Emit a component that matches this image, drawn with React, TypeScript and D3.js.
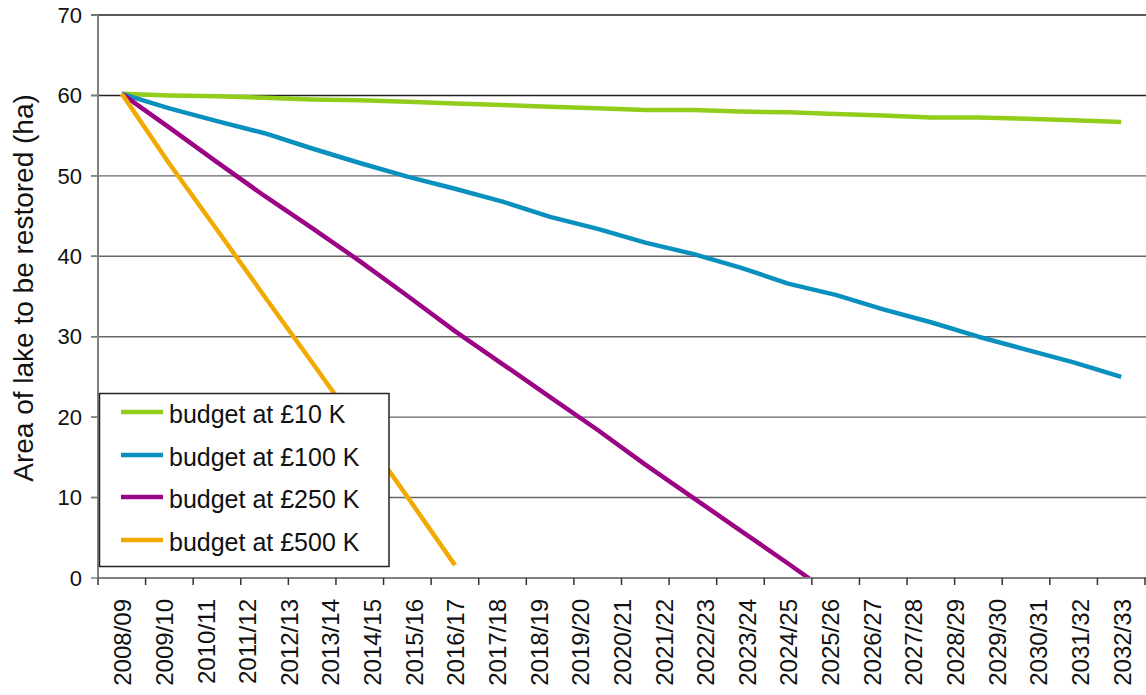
import React from "react";
import * as d3 from "d3";

const yearLabels = [
  "2008/09", "2009/10", "2010/11", "2011/12", "2012/13", "2013/14", "2014/15",
  "2015/16", "2016/17", "2017/18", "2018/19", "2019/20", "2020/21", "2021/22",
  "2022/23", "2023/24", "2024/25", "2025/26", "2026/27", "2027/28", "2028/29",
  "2029/30", "2030/31", "2031/32", "2032/33",
];

// values at each plotted step (22 steps on the drawn axis)
const budget10 = [60.2, 60.0, 59.9, 59.7, 59.5, 59.4, 59.2, 59.0, 58.8, 58.6, 58.4, 58.2, 58.2, 58.0, 57.9, 57.7, 57.5, 57.25, 57.25, 57.1, 56.9, 56.7];
const budget100 = [60.2, 58.4, 56.8, 55.3, 53.4, 51.6, 49.9, 48.4, 46.8, 44.9, 43.4, 41.7, 40.3, 38.6, 36.6, 35.2, 33.4, 31.8, 30.0, 28.4, 26.8, 25.0];
const budget250 = [60.2, 56.0, 51.7, 47.5, 43.5, 39.4, 35.1, 30.7, 26.6, 22.5, 18.4, 14.1, 10.0, 5.9, 1.8, -2.4];
const budget500 = [60.2, 51.5, 43.3, 35.0, 26.8, 18.5, 10.1, 1.6];

const stepCount = 22;
const yTicks = [0, 10, 20, 30, 40, 50, 60, 70];

const seriesNames = ["budget at £10 K", "budget at £100 K", "budget at £250 K", "budget at £500 K"];
const seriesValues = [budget10, budget100, budget250, budget500];
const seriesColors = ["#93CD1C", "#0A90BF", "#9B0585", "#F3AA00"];

const W = 1146;
const H = 695;
const left = 98;
const right = 1145;
const top = 15;
const bottom = 578;
const FONT = "'Liberation Sans', Arial, sans-serif";

export default function App() {
  const steps = d3.range(stepCount);
  const x = d3.scaleBand<number>().domain(steps).range([left, right]).paddingInner(0).paddingOuter(0);
  const xLab = d3.scaleBand<string>().domain(yearLabels).range([102, 1143]);
  const y = d3.scaleLinear().domain([0, 70]).range([bottom, top]);

  const line = d3
    .line<number>()
    .x((_, i) => (x(i) as number) + x.bandwidth() / 2)
    .y((d) => y(d));

  const tickXs = d3.range(stepCount + 1).map((i) => left + i * x.bandwidth());

  const legendRows = [412, 455, 497, 540];

  return (
    <svg
      width={W}
      height={H}
      style={{ position: "absolute", left: 0, top: 0, display: "block", background: "#fff" }}
      fontFamily={FONT}
    >
      <defs>
        <clipPath id="plot">
          <rect x={left} y={top - 3} width={right - left + 2} height={bottom - top + 3} />
        </clipPath>
      </defs>
      {/* gridlines */}
      {yTicks.filter((t) => t > 0).map((t) => (
        <line key={t} x1={91} x2={W} y1={y(t)} y2={y(t)} stroke={t >= 60 ? "#222" : "#666"} strokeWidth={1.4} />
      ))}
      {/* series */}
      <g clipPath="url(#plot)">
        {seriesValues.map((vals, si) => (
          <path
            key={si}
            d={line(vals) || ""}
            fill="none"
            stroke={seriesColors[si]}
            strokeWidth={4.5}
            strokeLinejoin="round"
          />
        ))}
      </g>
      {/* y axis */}
      <line x1={left} x2={left} y1={top} y2={bottom} stroke="#808080" strokeWidth={2} />
      {yTicks.map((t) => (
        <g key={t}>
          <line x1={91} x2={left} y1={y(t)} y2={y(t)} stroke="#808080" strokeWidth={1.5} />
          <text x={82} y={y(t)} dy="0.35em" textAnchor="end" fontSize={22} fill="#111">
            {t}
          </text>
        </g>
      ))}
      {/* x axis */}
      <line x1={left} x2={W} y1={bottom} y2={bottom} stroke="#808080" strokeWidth={2} />
      {tickXs.map((tx, i) => (
        <line key={i} x1={tx} x2={tx} y1={bottom} y2={bottom + 7} stroke="#333" strokeWidth={1.5} />
      ))}
      {yearLabels.map((lab) => {
        const cx = (xLab(lab) as number) + xLab.bandwidth() / 2;
        return (
          <text
            key={lab}
            transform={`translate(${cx},599) rotate(-90)`}
            textAnchor="end"
            dy="0.35em"
            fontSize={24}
            fill="#111"
          >
            {lab}
          </text>
        );
      })}
      {/* y title */}
      <text
        transform={`translate(23,288) rotate(-90)`}
        textAnchor="middle"
        dy="0.35em"
        fontSize={28}
        fill="#111"
      >
        Area of lake to be restored (ha)
      </text>
      {/* legend */}
      <rect x={99.5} y={393.5} width={289.5} height={173} fill="#fff" stroke="#222" strokeWidth={1.5} />
      {seriesNames.map((n, i) => (
        <g key={n}>
          <line x1={121} x2={163} y1={legendRows[i]} y2={legendRows[i]} stroke={seriesColors[i]} strokeWidth={4.5} />
          <text x={169} y={legendRows[i] + 2} dy="0.35em" fontSize={25} fill="#111">
            {n}
          </text>
        </g>
      ))}
    </svg>
  );
}
